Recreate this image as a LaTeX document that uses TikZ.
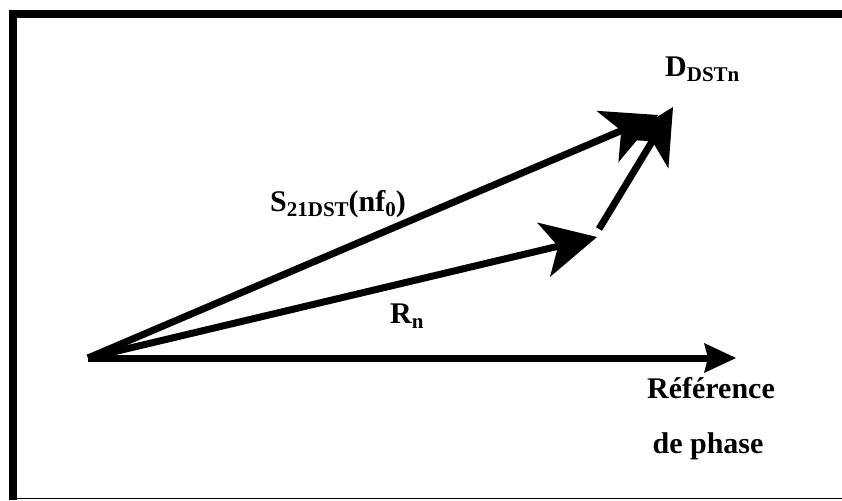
\documentclass[tikz,border=0pt]{standalone}
\usepackage{fontspec}
\setmainfont{Liberation Serif}
\usetikzlibrary{arrows.meta}
\newcommand\sbx[1]{\raisebox{-5pt}{\fontsize{21}{22}\selectfont #1}}
\begin{document}
\begin{tikzpicture}[x=1pt,y=-1pt,
  vec/.style={line width=7pt, -{Stealth[length=55pt,width=56pt,inset=15pt,line width=0pt]}},
  refvec/.style={line width=7pt, -{Stealth[length=32pt,width=30pt,inset=4pt,line width=0pt]}},
  lbl/.style={inner sep=0pt, anchor=base west, font=\bfseries\fontsize{30}{34}\selectfont}]
\useasboundingbox (0,0) rectangle (842,500);
\fill (9,10) rectangle (17,500);
\fill (9,10) rectangle (842,18);
\draw[line width=1.2pt] (17,498.5) -- (842,498.5);

\coordinate (O) at (88,358);
\coordinate (Htip) at (736,358);
\coordinate (Rtip) at (597,237);
\coordinate (Stip) at (658,115);
\coordinate (Dstart) at (599,229);
\coordinate (Dtip) at (673,107);

\draw[refvec] (O) -- (Htip);
\draw[vec] (O) -- (Rtip);
\draw[vec] (O) -- (Stip);
\draw[vec] (Dstart) -- (Dtip);

\node[lbl] (Dl) at (665,77) {D\sbx{DSTn}};
\node[lbl] (Sl) at (270,211) {S\sbx{21DST}(nf\sbx{0})};
\node[lbl] (Rl) at (390,323) {R\sbx{n}};
\node[lbl, anchor=base] (Ref1) at (711,398) {Référence};
\node[lbl, anchor=base] (Ref2) at (708,453) {de phase};
\end{tikzpicture}
\end{document}
